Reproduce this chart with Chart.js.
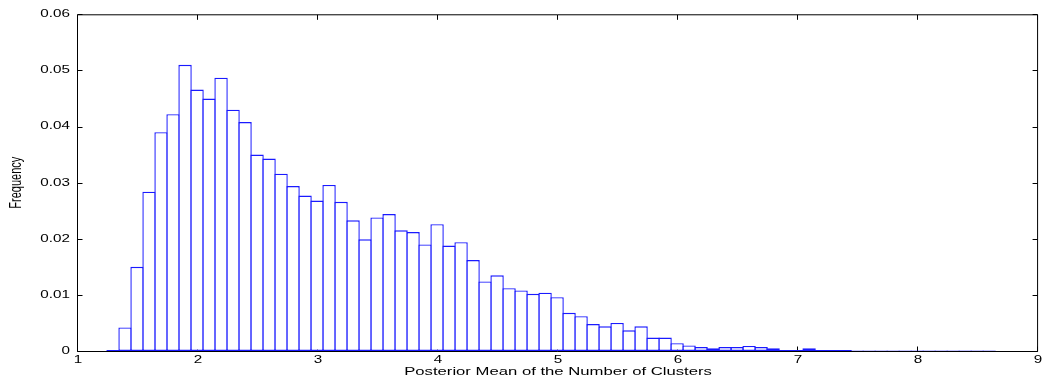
<!DOCTYPE html>
<html>
<head>
<meta charset="utf-8">
<script src="https://cdn.jsdelivr.net/npm/chart.js@4/dist/chart.umd.min.js"></script>
<style>
  html, body { margin: 0; padding: 0; background: #ffffff; }
  #c { display: block; }
</style>
</head>
<body>
<canvas id="c" width="1044" height="383"></canvas>
<script>
// ---- data ----
const binCenters = [
  1.292, 1.392, 1.492, 1.592, 1.692, 1.792, 1.892, 1.992, 2.092, 2.192,
  2.292, 2.392, 2.492, 2.592, 2.692, 2.792, 2.892, 2.992, 3.092, 3.192,
  3.292, 3.392, 3.492, 3.592, 3.692, 3.792, 3.892, 3.992, 4.092, 4.192,
  4.292, 4.392, 4.492, 4.592, 4.692, 4.792, 4.892, 4.992, 5.092, 5.192,
  5.292, 5.392, 5.492, 5.592, 5.692, 5.792, 5.892, 5.992, 6.092, 6.192,
  6.292, 6.392, 6.492, 6.592, 6.692, 6.792, 6.892, 6.992, 7.092, 7.192,
  7.292, 7.392, 7.492, 7.592, 7.692, 7.792, 7.892, 7.992, 8.092, 8.192,
  8.292, 8.392, 8.492, 8.592
];
const frequency = [
  0.0002, 0.0042, 0.0150, 0.0284, 0.0390, 0.0422, 0.0510, 0.0466, 0.0450, 0.0487,
  0.0430, 0.0408, 0.0350, 0.0343, 0.0316, 0.0294, 0.0277, 0.0268, 0.0296, 0.0266,
  0.0233, 0.0199, 0.0238, 0.0244, 0.0215, 0.0212, 0.0190, 0.0226, 0.0188, 0.0194,
  0.0162, 0.0124, 0.0135, 0.0112, 0.0108, 0.0102, 0.0104, 0.0096, 0.0068, 0.0062,
  0.0048, 0.0044, 0.0050, 0.0037, 0.0044, 0.0024, 0.0024, 0.0014, 0.0010, 0.0007,
  0.0005, 0.0007, 0.0007, 0.0009, 0.0007, 0.0005, 0.0002, 0.0002, 0.0005, 0.0002,
  0.0002, 0.0002, 0.0001, 0.0001, 0.0001, 0.0001, 0.0001, 0.0001, 0.0001, 0.0001,
  0.0001, 0.0001, 0.0001, 0.0001
];
const xTickLabels = ['1', '2', '3', '4', '5', '6', '7', '8', '9'];
const yTickLabels = ['0', '0.01', '0.02', '0.03', '0.04', '0.05', '0.06'];
const xTitle = 'Posterior Mean of the Number of Clusters';
const yTitle = 'Frequency';

// ---- the reference text is horizontally stretched; stretch canvas text the same way ----
const canvas = document.getElementById('c');
const ctx = canvas.getContext('2d');
const STRETCH = 1.45;
const nativeFillText = ctx.fillText;
ctx.fillText = function (text, x, y, maxWidth) {
  const m = this.getTransform();
  const p = m.transformPoint(new DOMPoint(x, y));
  this.save();
  this.setTransform(new DOMMatrix().translate(p.x, p.y).scale(STRETCH, 1).translate(-p.x, -p.y).multiply(m));
  if (maxWidth === undefined) nativeFillText.call(this, text, x, y);
  else nativeFillText.call(this, text, x, y, maxWidth);
  this.restore();
};

// frame + inward ticks on all four sides
const framePlugin = {
  id: 'frame',
  beforeDatasetsDraw(chart) {
    const { ctx, chartArea: a, scales } = chart;
    ctx.save();
    ctx.strokeStyle = '#000';
    ctx.lineWidth = 1;
    const L = a.left - 0.5, R = a.right - 0.5, T = a.top + 0.5, B = a.bottom + 0.5;
    ctx.beginPath();
    ctx.rect(L, T, R - L, B - T);
    ctx.stroke();
    const len = 5;
    ctx.beginPath();
    scales.x.ticks.forEach(t => {
      const px = Math.round(scales.x.getPixelForValue(t.value)) - 0.5;
      ctx.moveTo(px, B); ctx.lineTo(px, B - len);
      ctx.moveTo(px, T); ctx.lineTo(px, T + len);
    });
    scales.y.ticks.forEach(t => {
      const py = Math.round(scales.y.getPixelForValue(t.value)) + 0.5;
      ctx.moveTo(L, py); ctx.lineTo(L + len, py);
      ctx.moveTo(R, py); ctx.lineTo(R - len, py);
    });
    ctx.stroke();
    ctx.restore();
  }
};

const FONT = 'Liberation Sans, Arial, Helvetica, sans-serif';
const BAR_LINE = 1.4;

new Chart(ctx, {
  type: 'bar',
  data: {
    datasets: [{
      data: binCenters.map((x, i) => ({ x: x, y: frequency[i] })),
      backgroundColor: '#ffffff',
      borderColor: '#1a1aff',
      borderWidth: BAR_LINE,
      borderSkipped: false,
      // bars overlap by one border width so neighbouring outlines coincide
      barPercentage: 1.116,
      categoryPercentage: 1,
      inflateAmount: 0
    }]
  },
  options: {
    responsive: false,
    animation: false,
    events: [],
    layout: { padding: { top: 14, right: 3, bottom: 0, left: 0 } },
    plugins: { legend: { display: false }, tooltip: { enabled: false }, title: { display: false } },
    scales: {
      x: {
        type: 'linear',
        min: 1,
        max: 9,
        offset: false,
        grid: { display: false, offset: false, drawTicks: false },
        border: { display: false },
        afterFit(scale) { scale.height = 32; },
        ticks: {
          stepSize: 1,
          autoSkip: false,
          maxRotation: 0,
          padding: 3,
          color: '#000',
          font: { family: FONT, size: 10.5 },
          callback: (v, i) => xTickLabels[i]
        },
        title: {
          display: true,
          text: xTitle,
          color: '#000',
          font: { family: FONT, size: 11.5 },
          padding: { top: 0, bottom: 4 }
        }
      },
      y: {
        min: 0,
        max: 0.06,
        grid: { display: false, drawTicks: false },
        border: { display: false },
        afterFit(scale) { scale.width = 78; },
        ticks: {
          stepSize: 0.01,
          padding: 8,
          color: '#000',
          font: { family: FONT, size: 10.5 },
          callback: (v, i) => yTickLabels[i]
        },
        title: {
          display: true,
          text: yTitle,
          color: '#000',
          font: { family: FONT, size: 11 },
          padding: { top: 10, bottom: 0 }
        }
      }
    }
  },
  plugins: [framePlugin]
});
</script>
</body>
</html>
